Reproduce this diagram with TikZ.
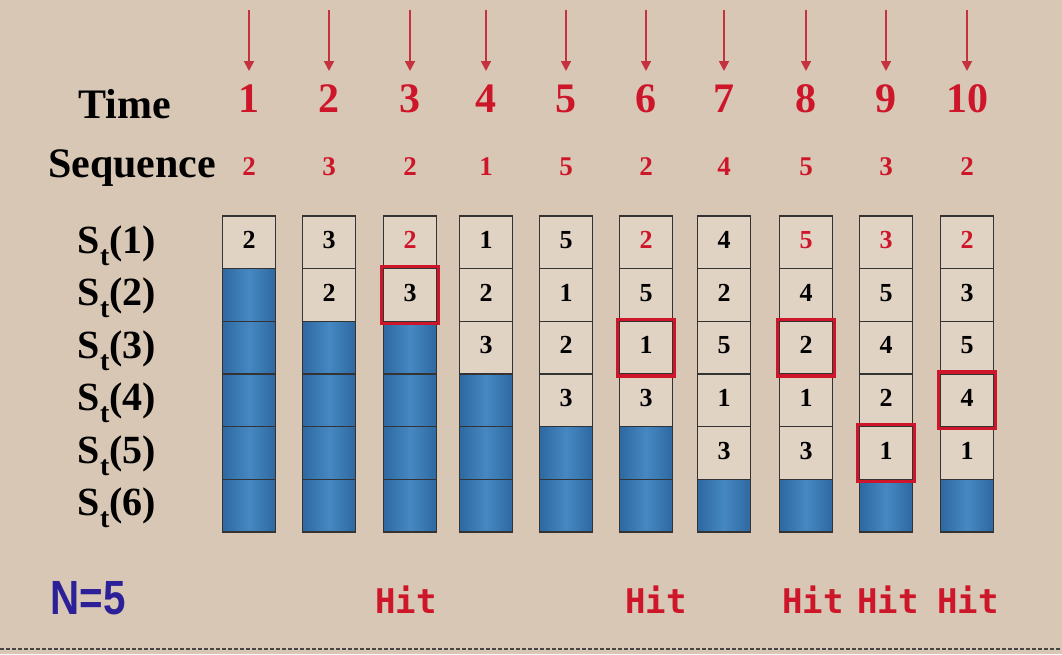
\documentclass[tikz,border=0pt]{standalone}
\usepackage{fontspec}
\setmainfont{Liberation Serif}
\newfontfamily\monof{DejaVu Sans Mono}
\newfontfamily\sansf{Liberation Sans}
\usetikzlibrary{arrows.meta,fit}
\definecolor{bg}{RGB}{216,199,180}
\definecolor{cellbg}{RGB}{225,211,196}
\definecolor{myred}{RGB}{205,22,42}
\definecolor{arrowred}{RGB}{196,50,64}
\definecolor{blueA}{RGB}{70,136,194}
\definecolor{blueB}{RGB}{46,104,160}
\definecolor{nblue}{RGB}{44,32,152}
\tikzset{
  cellbox/.style={draw=black!80, line width=1.3pt, fill=cellbg, minimum width=53pt,
    minimum height=52.67pt, inner sep=0pt, outer sep=0pt,
    font=\fontsize{26}{26}\selectfont\bfseries},
  bluecell/.style={cellbox, left color=blueB, right color=blueB, middle color=blueA},
  hitbox/.style={draw=myred, line width=3.5pt, inner sep=2pt, fit=#1},
  timenum/.style={anchor=base, text=myred, font=\fontsize{42}{42}\selectfont\bfseries},
  seqnum/.style={anchor=base, text=myred, font=\fontsize{27}{27}\selectfont\bfseries},
  rowlab/.style={anchor=base, font=\fontsize{42}{42}\selectfont\bfseries},
  stlab/.style={anchor=base, font=\fontsize{40}{40}\selectfont\bfseries},
  hitlab/.style={anchor=base, text=myred, font=\fontsize{34}{34}\selectfont\monof\bfseries},
  timearrow/.style={draw=arrowred, line width=1.8pt, -{Triangle[width=10pt,length=10pt]}},
}
\begin{document}
\begin{tikzpicture}[x=1pt,y=-1pt]
\fill[bg] (0,0) rectangle (1062,654);
\useasboundingbox (0,0) rectangle (1062,654);
% left labels
\node[rowlab] (time) at (125,118) {Time};
\node[rowlab] (seq) at (132,177) {Sequence};
\foreach \r in {1,...,6}{
  \pgfmathsetmacro\yb{253+(\r-1)*52.5}
  \node[stlab] (st\r) at (117,\yb) {S\raisebox{-0.3em}{\fontsize{28}{28}\selectfont t}(\r)};
}
% columns
\foreach \c/\x/\n/\s/\vals in {
  1/249/1/2/{2},
  2/329/2/3/{3,2},
  3/410/2/2/{\textcolor{myred}{2},3},
  4/486/3/1/{1,2,3},
  5/566/4/5/{5,1,2,3},
  6/646/4/2/{\textcolor{myred}{2},5,1,3},
  7/724/5/4/{4,2,5,1,3},
  8/806/5/5/{\textcolor{myred}{5},4,2,1,3},
  9/886/5/3/{\textcolor{myred}{3},5,4,2,1},
  10/967/5/2/{\textcolor{myred}{2},3,5,4,1}}{
  \coordinate (as\c) at (\x,10);
  \coordinate (ae\c) at (\x,71);
  \draw[timearrow] (as\c) -- (ae\c);
  \node[timenum] (t\c) at (\x,112) {\c};
  \node[seqnum] (q\c) at (\x,175) {\s};
  \foreach \v [count=\r] in \vals {
    \pgfmathsetmacro\yc{216+(\r-0.5)*52.67}
    \node[cellbox] (c\c-\r) at (\x,\yc) {\raisebox{5pt}{\v}};
  }
  \pgfmathtruncatemacro\st{\n+1}
  \foreach \r in {\st,...,6}{
    \pgfmathsetmacro\yc{216+(\r-0.5)*52.67}
    \node[bluecell] (c\c-\r) at (\x,\yc) {};
  }
}
% hit highlights
\node[hitbox=(c3-2)] (h3) {};
\node[hitbox=(c6-3)] (h6) {};
\node[hitbox=(c8-3)] (h8) {};
\node[hitbox=(c9-5)] (h9) {};
\node[hitbox=(c10-4)] (h10) {};
% bottom labels
\node[anchor=base, text=nblue, font=\fontsize{48}{48}\selectfont\sansf\bfseries] (N) at (88,614) {\scalebox{0.84}[1]{N=5}};
\node[hitlab] (hit3) at (406,613) {Hit};
\node[hitlab] (hit6) at (656,613) {Hit};
\node[hitlab] (hit8) at (813,613) {Hit};
\node[hitlab] (hit9) at (888,613) {Hit};
\node[hitlab] (hit10) at (968,613) {Hit};
% dotted separator
\coordinate (dl) at (0,649);
\coordinate (dr) at (1062,649);
\draw[gray!55!black, line width=2.6pt, dash pattern=on 3.5pt off 2.5pt] (dl) -- (dr);
\end{tikzpicture}
\end{document}
